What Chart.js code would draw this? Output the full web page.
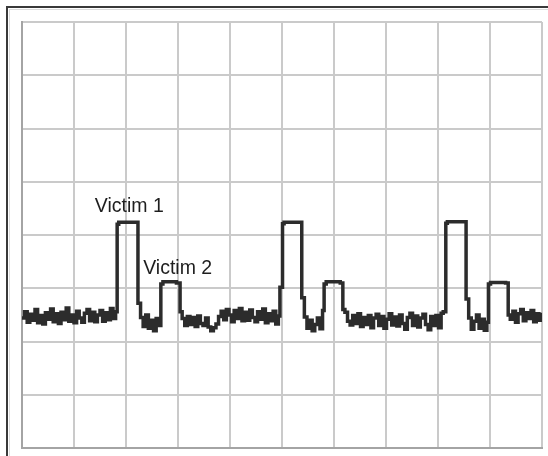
<!DOCTYPE html>
<html>
<head>
<meta charset="utf-8">
<script src="https://cdn.jsdelivr.net/npm/chart.js@4"></script>
<style>
  html, body { margin: 0; padding: 0; background: #fff; }
  canvas { display: block; }
</style>
</head>
<body>
<canvas id="scope" width="548" height="456"></canvas>
<script>
// --- Scope trace data (x in divisions, y in divisions, 0 = bottom) ---
const sampleStep = 0.05;

// noisy baseline stretches between pulses
const noiseStarts = [0, 2.28, 3.08, 5.43, 6.21, 8.59, 9.39];
const noiseA = [2.44,2.56,2.36,2.51,2.40,2.60,2.35,2.49,2.33,2.54,
                2.42,2.61,2.37,2.52,2.34,2.55,2.41,2.63,2.38,2.50,
                2.35,2.57,2.44,2.36,2.53,2.60,2.39,2.55,2.37,2.50,
                2.58,2.38,2.54,2.41,2.62,2.43,2.56];
const noiseB = [2.45,2.28,2.50,2.25,2.40,2.20,2.43,2.30];
const noiseC = [2.43,2.30,2.47,2.32,2.45,2.28,2.48,2.34,2.30,2.44,2.27,
                2.20,2.26,2.33,
                2.47,2.57,2.41,2.60,2.50,2.37,2.58,2.43,2.62,2.39,2.55,2.40,
                2.59,2.45,2.37,2.56,2.42,2.61,2.35,2.52,2.39,2.57,2.33,2.48];
const noiseD = [2.46,2.25,2.40,2.20,2.32,2.44,2.24,2.58];
const noiseE = [2.55,2.38,2.31,2.49,2.34,2.52,2.28,2.45,2.32,2.49,
                2.26,2.44,2.51,2.30,2.47,2.25,2.42,2.52,2.31,2.46,
                2.29,2.50,2.34,2.23,2.45,2.53,2.30,2.48,2.27,2.44,
                2.51,2.32,2.22,2.47,2.30,2.49,2.26,2.53];
const noiseF = [2.44,2.23,2.38,2.50,2.25,2.42,2.21,2.36];
const noiseG = [2.42,2.57,2.36,2.52,2.60,2.39,2.54,2.43,2.58,2.37,2.52,2.40,2.54];
const noiseRuns = [noiseA, noiseB, noiseC, noiseD, noiseE, noiseF, noiseG];

// pulse edges (victim 1 big pulse, victim 2 small pulse, three repeats)
const edgeX = [1.83, 1.86, 2.23,
               2.67, 2.71, 2.97, 3.04,
               4.96, 5.01, 5.04, 5.38,
               5.81, 5.85, 6.12, 6.17,
               8.10, 8.15, 8.18, 8.54,
               8.97, 9.01, 9.30, 9.35];
const edgeY = [4.20, 4.24, 2.72,
               3.08, 3.12, 3.10, 2.56,
               3.02, 4.21, 4.24, 2.82,
               3.08, 3.12, 3.10, 2.60,
               2.56, 4.22, 4.25, 2.80,
               3.08, 3.11, 3.10, 2.50];

// annotation labels
const labelText = ['Victim 1', 'Victim 2'];
const labelX = [1.40, 2.33];
const labelY = [4.43, 3.27];

// --- build the point table ---
const trace = [];
noiseRuns.forEach((run, r) => {
    run.forEach((v, i) => trace.push({ x: noiseStarts[r] + i * sampleStep, y: v }));
});
edgeX.forEach((x, i) => trace.push({ x: x, y: edgeY[i] }));
trace.sort((a, b) => a.x - b.x);

// frame + labels drawn on the canvas
const scopeDecor = {
    id: 'scopeDecor',
    beforeDraw(chart) {
        const ctx = chart.ctx;
        ctx.save();
        ctx.fillStyle = '#3a3a3a';
        ctx.fillRect(6, 6, 542, 2);
        ctx.fillRect(6, 6, 2, 450);
        ctx.fillStyle = '#dcdcdc';
        ctx.fillRect(9, 9, 539, 1);
        ctx.fillRect(9, 9, 1, 447);
        ctx.restore();
    },
    afterDatasetsDraw(chart) {
        const ctx = chart.ctx;
        const xs = chart.scales.x, ys = chart.scales.y;
        ctx.save();
        ctx.fillStyle = '#1e1e1e';
        ctx.font = '19.5px "Liberation Sans", Arial, sans-serif';
        ctx.textBaseline = 'alphabetic';
        labelText.forEach((t, i) => {
            ctx.fillText(t, xs.getPixelForValue(labelX[i]), ys.getPixelForValue(labelY[i]));
        });
        ctx.restore();
    }
};

new Chart(document.getElementById('scope'), {
    type: 'line',
    data: {
        datasets: [{
            data: trace,
            borderColor: '#2c2c2c',
            borderWidth: 3.5,
            pointRadius: 0,
            stepped: true,
            fill: false
        }]
    },
    options: {
        responsive: false,
        animation: false,
        layout: { padding: { left: 22, top: 22, right: 6, bottom: 8 } },
        plugins: { legend: { display: false }, tooltip: { enabled: false } },
        scales: {
            x: {
                type: 'linear', min: 0, max: 10,
                ticks: { display: false, stepSize: 1 },
                grid: { color: '#cacaca', lineWidth: 2, drawTicks: false, tickLength: 0 },
                border: { display: true, color: '#a4a4a4', width: 2 }
            },
            y: {
                type: 'linear', min: 0, max: 8,
                ticks: { display: false, stepSize: 1 },
                grid: { color: '#cacaca', lineWidth: 2, drawTicks: false, tickLength: 0 },
                border: { display: true, color: '#a4a4a4', width: 2 }
            }
        }
    },
    plugins: [scopeDecor]
});
</script>
</body>
</html>
